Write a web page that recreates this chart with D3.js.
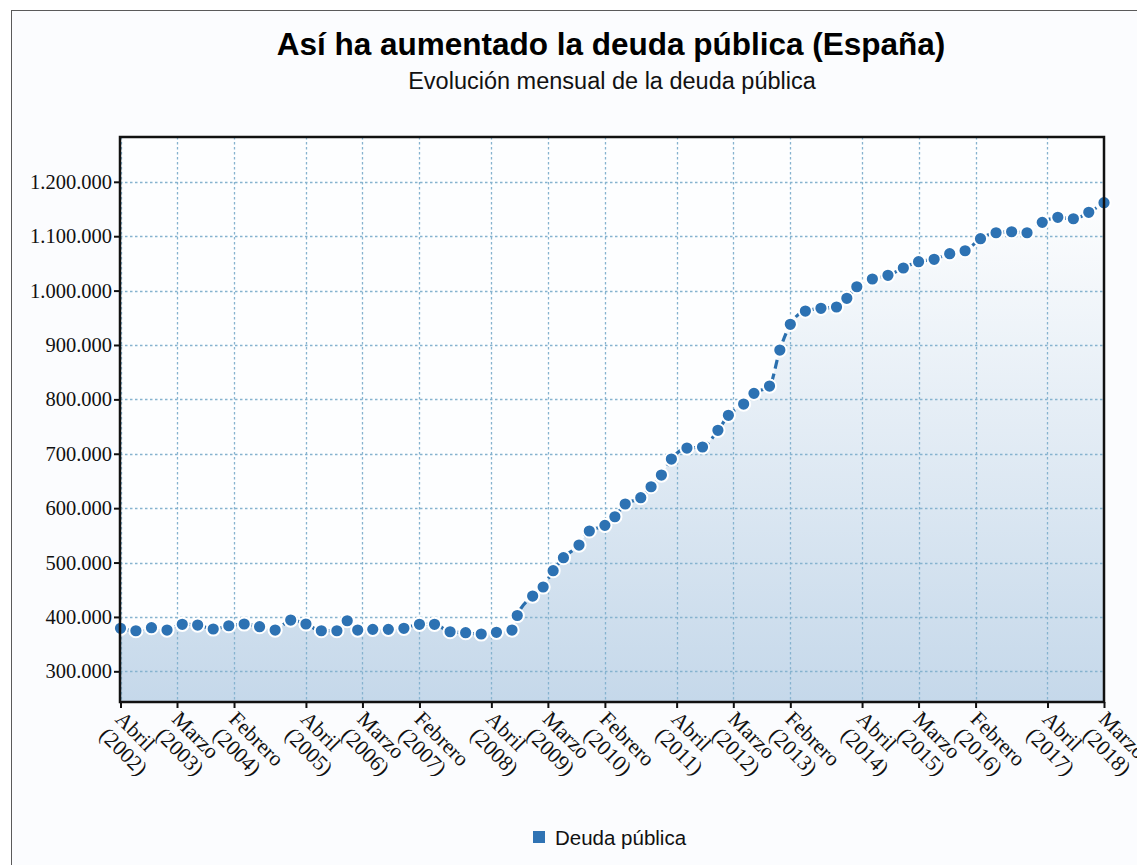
<!DOCTYPE html>
<html>
<head>
<meta charset="utf-8">
<script src="https://cdn.jsdelivr.net/npm/d3@7"></script>
<style>
  html, body { margin: 0; padding: 0; background: #ffffff; }
  svg { display: block; }
</style>
</head>
<body>
<svg id="chart" width="1137" height="865"></svg>
<script>
// ---- Data ----
const dates = ["2002-04","2002-07","2002-10","2003-01","2003-04","2003-07","2003-10","2004-01","2004-04","2004-07","2004-10","2005-01","2005-04","2005-07","2005-10","2005-12","2006-02","2006-05","2006-08","2006-11","2007-02","2007-05","2007-08","2007-11","2008-02","2008-05","2008-08","2008-09","2008-12","2009-02","2009-04","2009-06","2009-09","2009-11","2010-02","2010-04","2010-06","2010-09","2010-11","2011-01","2011-03","2011-06","2011-09","2011-12","2012-02","2012-05","2012-07","2012-10","2012-12","2013-02","2013-05","2013-08","2013-11","2014-01","2014-03","2014-06","2014-09","2014-12","2015-03","2015-06","2015-09","2015-12","2016-03","2016-06","2016-09","2016-12","2017-03","2017-06","2017-09","2017-12","2018-03"];
const deuda = [379100,374600,380200,375900,386400,385100,377800,383800,387000,382000,375900,394300,387000,374600,
  374600,393000,375900,377200,377200,379100,386400,386400,372800,371000,368600,371700,375900,402600,
  438400,455000,485000,508900,532200,558000,568400,584200,607600,619200,639400,660900,690300,710500,712400,743100,770700,791400,811100,824500,
  890700,938000,962400,967400,969800,985800,1007100,1021300,1028100,1041500,1053100,1057500,1067800,1073300,1095400,1106400,1108200,1106400,1125500,1134700,1132100,1143900,1161600];
const xTickDates = ["2002-04","2003-03","2004-02","2005-04","2006-03","2007-02","2008-04","2009-03","2010-02","2011-04","2012-03","2013-02","2014-04","2015-03","2016-02","2017-04","2018-03"];
const xTickMonths = ["Abril","Marzo","Febrero","Abril","Marzo","Febrero","Abril","Marzo","Febrero","Abril","Marzo","Febrero","Abril","Marzo","Febrero","Abril","Marzo"];
const xTickYears = ["(2002)","(2003)","(2004)","(2005)","(2006)","(2007)","(2008)","(2009)","(2010)","(2011)","(2012)","(2013)","(2014)","(2015)","(2016)","(2017)","(2018)"];
const yTicks = [300000,400000,500000,600000,700000,800000,900000,1000000,1100000,1200000];
const seriesName = "Deuda pública";
const titleText = "Así ha aumentado la deuda pública (España)";
const subtitleText = "Evolución mensual de la deuda pública";

// ---- Setup ----
const parse = d3.timeParse("%Y-%m");
const data = dates.map((d, i) => ({date: parse(d), value: deuda[i]}));
const W = 1137, H = 865;
const L = 120, R = 1104, T = 137, B = 702;

const svg = d3.select("#chart");
const defs = svg.append("defs");
const grad = defs.append("linearGradient").attr("id", "areaGrad")
  .attr("gradientUnits", "userSpaceOnUse").attr("x1", 0).attr("x2", 0).attr("y1", T + 40).attr("y2", B);
grad.append("stop").attr("offset", "0%").attr("stop-color", "#ffffff");
grad.append("stop").attr("offset", "100%").attr("stop-color", "#c5d8ea");
defs.append("clipPath").attr("id", "plotClip").append("rect")
  .attr("x", L).attr("y", T).attr("width", R - L).attr("height", B - T);

// outer container
svg.append("rect").attr("x", 0).attr("y", 0).attr("width", W).attr("height", H).attr("fill", "#ffffff");
svg.append("rect").attr("x", 11.5).attr("y", 10.5).attr("width", W + 20).attr("height", H + 20)
  .attr("fill", "#fbfcfe").attr("stroke", "#5a5a5a").attr("stroke-width", 1);

const x = d3.scaleTime().domain([parse("2002-04"), parse("2018-03")]).range([L + 0.5, R]);
const y = d3.scaleLinear().domain([243600, 1282400]).range([B, T]);

const loc = d3.formatLocale({decimal: ",", thousands: ".", grouping: [3], currency: ["", " €"]});
const fmt = loc.format(",");

// plot background
svg.append("rect").attr("x", L).attr("y", T).attr("width", R - L).attr("height", B - T).attr("fill", "#fdfeff");

const plot = svg.append("g").attr("clip-path", "url(#plotClip)");

// area
const area = d3.area().x(d => x(d.date)).y0(B).y1(d => y(d.value)).curve(d3.curveMonotoneX);
plot.append("path").datum(data).attr("d", area).attr("fill", "url(#areaGrad)");

// grid
const gridColor = "#86b3cf";
plot.append("g").selectAll("line").data(yTicks).join("line")
  .attr("x1", L).attr("x2", R).attr("y1", d => Math.round(y(d)) + 0.5).attr("y2", d => Math.round(y(d)) + 0.5)
  .attr("stroke", gridColor).attr("stroke-width", 1.3).attr("stroke-dasharray", "2.5,2.5");
plot.append("g").selectAll("line").data(xTickDates).join("line")
  .attr("x1", d => Math.round(x(parse(d))) + 0.5).attr("x2", d => Math.round(x(parse(d))) + 0.5)
  .attr("y1", T).attr("y2", B)
  .attr("stroke", gridColor).attr("stroke-width", 1.3).attr("stroke-dasharray", "2.5,2.5");

// line
const line = d3.line().x(d => x(d.date)).y(d => y(d.value)).curve(d3.curveMonotoneX);
svg.append("path").datum(data).attr("d", line)
  .attr("fill", "none").attr("stroke", "#2a6fae").attr("stroke-width", 3.2)
  .attr("stroke-dasharray", "9,5");

// points
svg.append("g").selectAll("circle").data(data).join("circle")
  .attr("cx", d => x(d.date)).attr("cy", d => y(d.value)).attr("r", 6.6)
  .attr("fill", "#2d72b3").attr("stroke", "#ffffff").attr("stroke-width", 2);

// frame
svg.append("rect").attr("x", L).attr("y", T).attr("width", R - L).attr("height", B - T)
  .attr("fill", "none").attr("stroke", "#111111").attr("stroke-width", 2.5);

// y axis
const serif = "'Liberation Serif', 'Times New Roman', serif";
const yAxis = d3.axisLeft(y).tickValues(yTicks).tickFormat(fmt).tickSize(6).tickPadding(2);
const gy = svg.append("g").attr("transform", `translate(${L},0)`).call(yAxis);
gy.select(".domain").remove();
gy.selectAll(".tick line").attr("stroke", "#111").attr("stroke-width", 2);
gy.selectAll(".tick text").attr("font-family", serif).attr("font-size", 20.5).attr("fill", "#111");

// x axis
const xAxis = d3.axisBottom(x).tickValues(xTickDates.map(parse)).tickSize(6).tickFormat("");
const gx = svg.append("g").attr("transform", `translate(0,${B})`).call(xAxis);
gx.select(".domain").remove();
gx.selectAll(".tick line").attr("stroke", "#111").attr("stroke-width", 2);

const xl = svg.append("g").selectAll("text").data(xTickDates).join("text")
  .attr("transform", d => `translate(${x(parse(d)) - 1},${B + 13}) rotate(45)`)
  .attr("font-family", serif).attr("font-size", 21.5).attr("fill", "#111");
xl.append("tspan").attr("x", 0).attr("dy", "0.35em").text((d, i) => xTickMonths[i]);
xl.append("tspan").attr("x", 0).attr("dy", "1.05em").text((d, i) => xTickYears[i]);

// title
const sans = "'Liberation Sans', Arial, sans-serif";
svg.append("text").attr("x", 611).attr("y", 55).attr("text-anchor", "middle")
  .attr("font-family", sans).attr("font-weight", "bold").attr("font-size", 31.5).attr("fill", "#000")
  .text(titleText);
svg.append("text").attr("x", 612).attr("y", 89).attr("text-anchor", "middle")
  .attr("font-family", sans).attr("font-size", 23.5).attr("fill", "#111")
  .text(subtitleText);

// legend
const lg = svg.append("g");
lg.append("rect").attr("x", 533).attr("y", 831).attr("width", 12).attr("height", 12).attr("fill", "#2f73b4");
lg.append("text").attr("x", 555).attr("y", 845).attr("font-family", sans).attr("font-size", 20.5).attr("fill", "#111")
  .text(seriesName);
</script>
</body>
</html>
